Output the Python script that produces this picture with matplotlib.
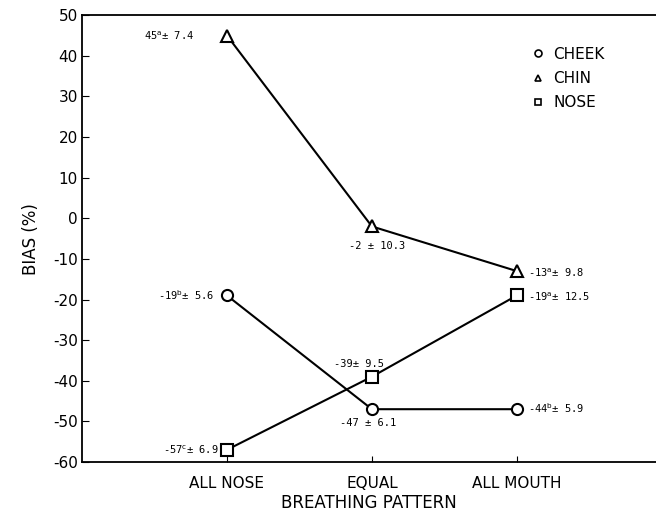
"""
Bias (%) by breathing pattern for cheek, chin and nose sampling sites.
Recreates the scanned figure and saves it as out.png.
"""
import matplotlib.pyplot as plt
from matplotlib.lines import Line2D

CATEGORIES = ['ALL NOSE', 'EQUAL', 'ALL MOUTH']
X_POS = [1, 2, 3]

CHEEK = [-19, -47, -47]
CHIN = [45, -2, -13]
NOSE = [-57, -39, -19]

CHEEK_LABELS = ['-19$^{\\mathrm{b}}$± 5.6', '-47 ± 6.1', '-44$^{\\mathrm{b}}$± 5.9']
CHIN_LABELS = ['45$^{\\mathrm{a}}$± 7.4', '-2 ± 10.3', '-13$^{\\mathrm{a}}$± 9.8']
NOSE_LABELS = ['-57$^{\\mathrm{c}}$± 6.9', '-39± 9.5', '-19$^{\\mathrm{a}}$± 12.5']

# (dx, dy) em pontos e alinhamento horizontal de cada rotulo
CHEEK_OFFS = [((-9, 0), 'right'), ((-3, -10), 'center'), ((8, 1), 'left')]
CHIN_OFFS = [((-24, 0), 'right'), ((4, -14), 'center'), ((8, -1), 'left')]
NOSE_OFFS = [((-6, 0), 'right'), ((-9, 9), 'center'), ((8, -1), 'left')]


def _series(ax, y, marker, labels, offs):
    ax.plot(X_POS, y, '-', color='black', linewidth=1.5, marker=marker,
            markersize=8, markerfacecolor='white', markeredgecolor='black',
            markeredgewidth=1.5, zorder=3)
    for x, v, lab, ((dx, dy), ha) in zip(X_POS, y, labels, offs):
        ax.annotate(lab, (x, v), xytext=(dx, dy), textcoords='offset points',
                    ha=ha, va='center', fontsize=7.5, family='DejaVu Sans Mono')


def main():
    plt.rcParams['axes.unicode_minus'] = False
    fig = plt.figure(figsize=(6.56, 5.25), dpi=100)
    ax = fig.add_axes([0.125, 0.12, 0.875, 0.851])

    _series(ax, CHEEK, 'o', CHEEK_LABELS, CHEEK_OFFS)
    _series(ax, CHIN, '^', CHIN_LABELS, CHIN_OFFS)
    _series(ax, NOSE, 's', NOSE_LABELS, NOSE_OFFS)

    ax.set_xlim(0, 3.96)
    ax.set_ylim(-60, 50)
    ax.set_yticks(range(-60, 51, 10))
    ax.set_xticks(X_POS)
    ax.set_xticklabels(CATEGORIES, fontsize=11)
    ax.tick_params(axis='y', direction='in', length=5, labelsize=11, pad=3)
    ax.tick_params(axis='x', direction='in', length=4, pad=10)
    ax.spines['right'].set_visible(False)
    for s in ('left', 'top', 'bottom'):
        ax.spines[s].set_linewidth(1.3)

    ax.set_xlabel('BREATHING PATTERN', fontsize=12, labelpad=2)
    ax.set_ylabel('BIAS (%)', fontsize=12, labelpad=9)

    handles = [Line2D([], [], linestyle='none', marker=m, markersize=5,
                      markerfacecolor='white', markeredgecolor='black',
                      markeredgewidth=1.2, label=lab)
               for m, lab in (('o', 'CHEEK'), ('^', 'CHIN'), ('s', 'NOSE'))]
    ax.legend(handles=handles, loc='upper left', bbox_to_anchor=(0.76, 0.96),
              frameon=False, fontsize=11, handlelength=0.8, handletextpad=0.6,
              labelspacing=0.6)

    fig.savefig('out.png', dpi=100)
    plt.close(fig)


if __name__ == '__main__':
    main()
